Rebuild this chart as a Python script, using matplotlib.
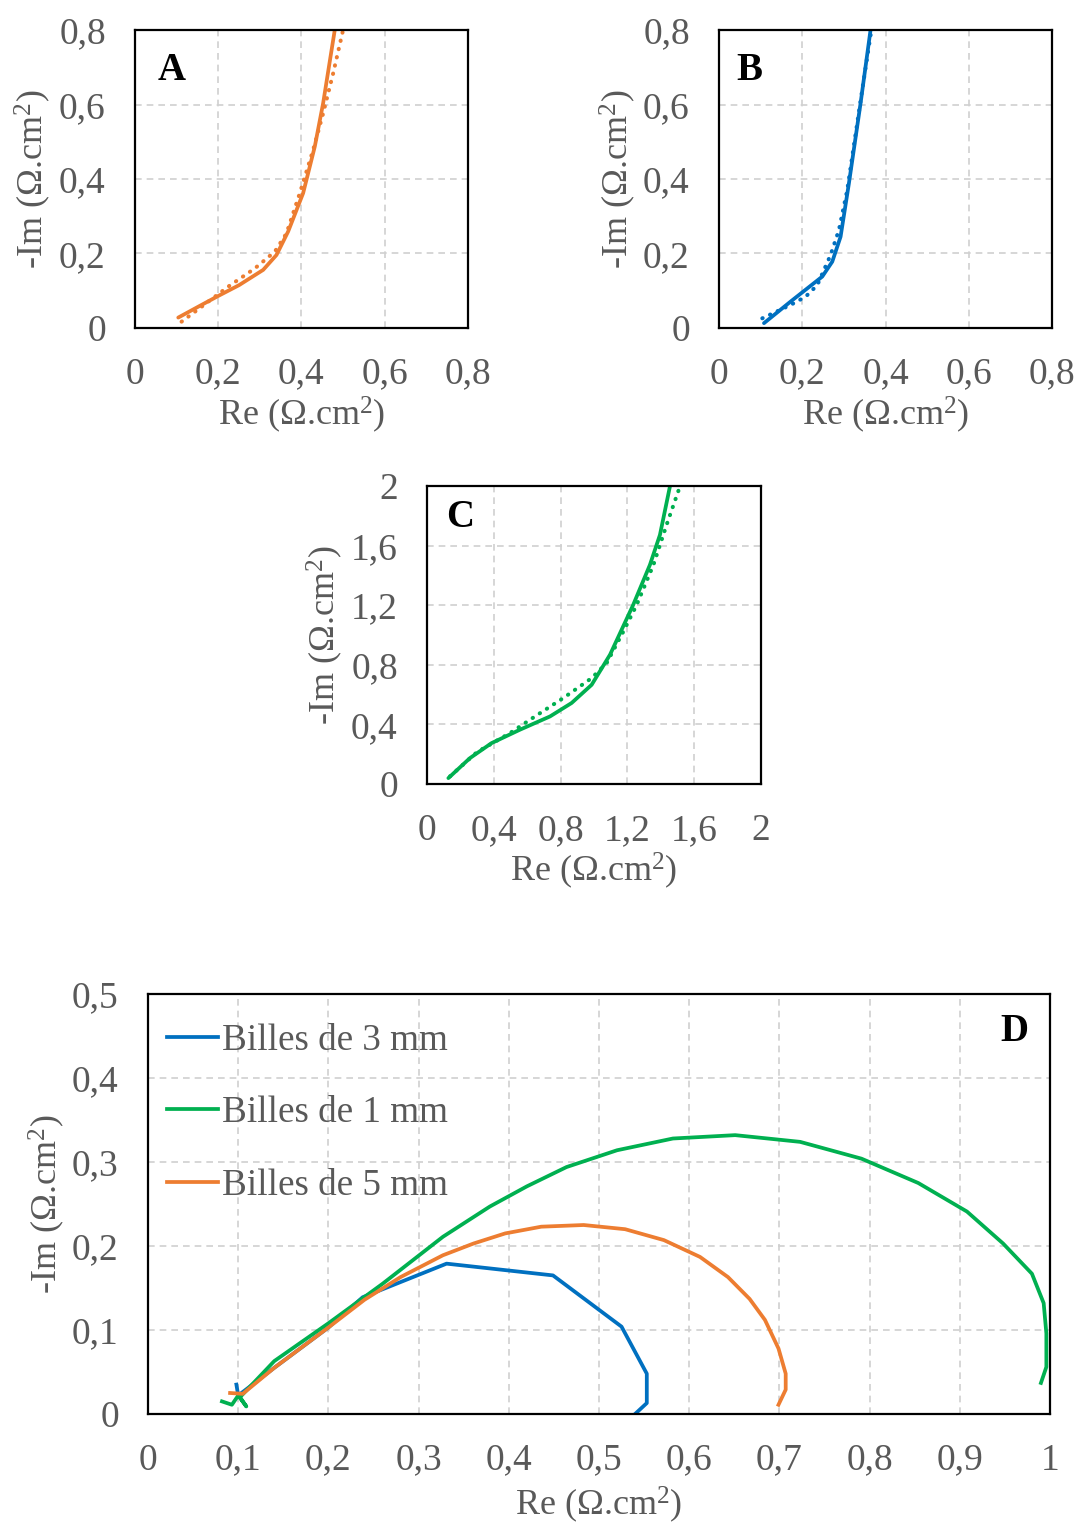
import numpy as np
import matplotlib
matplotlib.use("Agg")
import matplotlib.pyplot as plt
from matplotlib.ticker import FuncFormatter

plt.rcParams['font.family'] = ['Liberation Serif', 'DejaVu Serif']
plt.rcParams['mathtext.fontset'] = 'custom'
plt.rcParams['mathtext.rm'] = 'Liberation Serif'
plt.rcParams['mathtext.it'] = 'Liberation Serif:italic'

ORANGE = '#ED7D31'
BLUE = '#0070C0'
GREEN = '#00B050'
GRIS = '#595959'

# --- panneau A (billes 5 mm) : mesure + ajustement
a_re = [0.104, 0.16, 0.2, 0.25, 0.308, 0.340, 0.368, 0.404, 0.432, 0.452, 0.480]
a_im = [0.028, 0.062, 0.086, 0.115, 0.156, 0.196, 0.259, 0.362, 0.487, 0.603, 0.80]
a_fit_re = [0.112, 0.16, 0.224, 0.288, 0.336, 0.364, 0.396, 0.428, 0.452, 0.476, 0.500]
a_fit_im = [0.017, 0.057, 0.111, 0.160, 0.205, 0.254, 0.362, 0.478, 0.576, 0.683, 0.80]

# --- panneau B (billes 3 mm)
b_re = [0.108, 0.172, 0.248, 0.272, 0.292, 0.312, 0.340, 0.364]
b_im = [0.013, 0.071, 0.138, 0.178, 0.245, 0.388, 0.603, 0.80]
b_fit_re = [0.104, 0.172, 0.208, 0.236, 0.268, 0.288, 0.308, 0.340, 0.366]
b_fit_im = [0.026, 0.062, 0.084, 0.115, 0.196, 0.263, 0.370, 0.610, 0.80]

# --- panneau C (billes 1 mm)
c_re = [0.128, 0.257, 0.387, 0.557, 0.737, 0.866, 0.986, 1.096, 1.235, 1.335, 1.395, 1.455]
c_im = [0.040, 0.174, 0.275, 0.365, 0.454, 0.544, 0.666, 0.868, 1.203, 1.471, 1.672, 1.998]
c_fit_re = [0.138, 0.30, 0.497, 0.647, 0.816, 0.986, 1.076, 1.176, 1.256, 1.356, 1.435, 1.515]
c_fit_im = [0.052, 0.215, 0.342, 0.454, 0.577, 0.711, 0.812, 1.024, 1.203, 1.471, 1.740, 1.998]

# --- panneau D : Nyquist complets
d3_re = [0.098, 0.100, 0.14, 0.20, 0.238, 0.331, 0.449, 0.525, 0.553, 0.553, 0.540]
d3_im = [0.035, 0.022, 0.055, 0.103, 0.139, 0.179, 0.165, 0.104, 0.048, 0.013, 0.0]
d1_re = [0.082, 0.093, 0.100, 0.109, 0.102, 0.14, 0.20, 0.26, 0.327, 0.379, 0.420, 0.464,
         0.520, 0.582, 0.651, 0.723, 0.791, 0.854, 0.908, 0.948, 0.980, 0.993, 0.996,
         0.996, 0.990]
d1_im = [0.015, 0.011, 0.022, 0.009, 0.020, 0.063, 0.108, 0.155, 0.211, 0.247, 0.271, 0.294,
         0.314, 0.328, 0.332, 0.324, 0.304, 0.275, 0.241, 0.203, 0.167, 0.132, 0.096,
         0.056, 0.037]
d5_re = [0.091, 0.105, 0.14, 0.20, 0.24, 0.28, 0.327, 0.361, 0.396, 0.436, 0.483, 0.529,
         0.572, 0.612, 0.643, 0.667, 0.684, 0.699, 0.707, 0.707, 0.699]
d5_im = [0.025, 0.024, 0.055, 0.103, 0.136, 0.163, 0.189, 0.203, 0.215, 0.223, 0.225, 0.220,
         0.207, 0.187, 0.163, 0.137, 0.112, 0.078, 0.048, 0.029, 0.011]
d_labels = ['Billes de 3 mm', 'Billes de 1 mm', 'Billes de 5 mm']


def virgule(v, pos):
    s = ('%.1f' % v).rstrip('0').rstrip('.')
    return s.replace('.', ',')


def habiller(ax, lim, pas, lettre, lx, ly, xpad=2):
    ax.set_xlim(0, lim[0])
    ax.set_ylim(0, lim[1])
    ax.set_xticks(np.arange(0, lim[0] + 1e-9, pas[0]))
    ax.set_yticks(np.arange(0, lim[1] + 1e-9, pas[1]))
    ax.xaxis.set_major_formatter(FuncFormatter(virgule))
    ax.yaxis.set_major_formatter(FuncFormatter(virgule))
    ax.tick_params(length=0, labelsize=27, labelcolor=GRIS, pad=21)
    ax.grid(True, color='#d0d0d0', linestyle=(0, (4, 3)), linewidth=1.2)
    ax.set_axisbelow(True)
    for s in ax.spines.values():
        s.set_linewidth(1.6)
        s.set_color('black')
    ax.set_xlabel('Re (Ω.cm$^2$)', fontsize=26, color=GRIS, labelpad=xpad)
    ax.set_ylabel('-Im (Ω.cm$^2$)', fontsize=26, color=GRIS, labelpad=4)
    ax.text(lx, ly, lettre, transform=ax.transAxes, fontsize=28,
            fontweight='bold', ha='center', va='center')


pointille = dict(linestyle=(0, (0.1, 2.0)), dash_capstyle='round', linewidth=2.9)
LW = 2.7

fig = plt.figure(figsize=(10.78, 15.26), dpi=100)

axA = fig.add_axes([0.1252, 0.78506, 0.3089, 0.19528])
axA.plot(a_re, a_im, color=ORANGE, linewidth=LW, solid_capstyle='round')
axA.plot(a_fit_re, a_fit_im, color=ORANGE, **pointille)
habiller(axA, (0.8, 0.8), (0.2, 0.2), 'A', 0.11, 0.865)

axB = fig.add_axes([0.667, 0.78506, 0.3089, 0.19528])
axB.plot(b_re, b_im, color=BLUE, linewidth=LW, solid_capstyle='round')
axB.plot(b_fit_re, b_fit_im, color=BLUE, **pointille)
habiller(axB, (0.8, 0.8), (0.2, 0.2), 'B', 0.09, 0.865)

axC = fig.add_axes([0.3961, 0.4862, 0.3098, 0.1953])
axC.plot(c_re, c_im, color=GREEN, linewidth=LW, solid_capstyle='round')
axC.plot(c_fit_re, c_fit_im, color=GREEN, **pointille)
habiller(axC, (2, 2), (0.4, 0.4), 'C', 0.10, 0.895)

axD = fig.add_axes([0.1373, 0.0734, 0.8367, 0.2752])
axD.plot(d3_re, d3_im, color=BLUE, linewidth=LW, label=d_labels[0])
axD.plot(d1_re, d1_im, color=GREEN, linewidth=LW, label=d_labels[1])
axD.plot(d5_re, d5_im, color=ORANGE, linewidth=LW, label=d_labels[2])
habiller(axD, (1, 0.5), (0.1, 0.1), 'D', 0.961, 0.91, xpad=5)
leg = axD.legend(loc='upper left', frameon=False, fontsize=26.7, handlelength=1.37,
                 handletextpad=0.12, labelspacing=1.03, borderaxespad=0.25,
                 bbox_to_anchor=(-0.006, 0.988))
for t in leg.get_texts():
    t.set_color(GRIS)

fig.savefig('out.png', dpi=100)
